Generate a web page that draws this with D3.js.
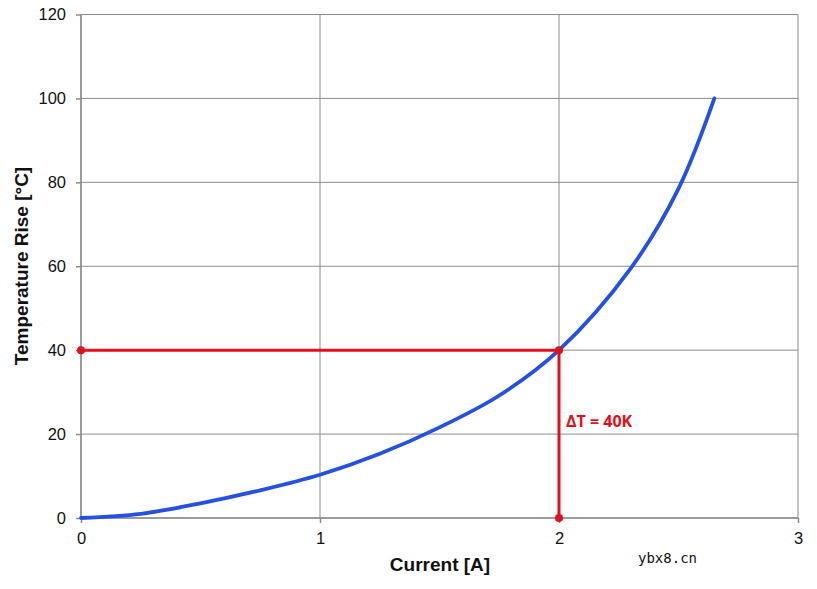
<!DOCTYPE html>
<html><head><meta charset="utf-8">
<script src="https://cdn.jsdelivr.net/npm/d3@7"></script>
<style>body{margin:0;background:#fff}svg{display:block}</style>
</head><body>
<svg id="c" width="817" height="589"></svg>
<script>
const currentA = [0, 0.25, 0.5, 0.75, 1, 1.25, 1.5, 1.75, 2, 2.3, 2.5, 2.65];
const tempRise = [0, 1.0, 3.5, 6.6, 10.3, 15.3, 21.6, 29.2, 40, 59.5, 78.5, 100];
const xTicks = [0, 1, 2, 3];
const yTicks = [0, 20, 40, 60, 80, 100, 120];
const markI = 2, markT = 40;

const svg = d3.select("#c");
const L = 81, R = 798, T = 14.5, B = 518;
const x = d3.scaleLinear().domain([0, 3]).range([L, R]);
const y = d3.scaleLinear().domain([0, 120]).range([B, T]);
const grid = "#8c8c8c";

svg.append("g").selectAll("line").data(yTicks).join("line")
  .attr("x1", L).attr("x2", R).attr("y1", d => y(d)).attr("y2", d => y(d))
  .attr("stroke", grid).attr("stroke-width", 1);
svg.append("g").selectAll("line").data(xTicks).join("line")
  .attr("y1", T).attr("y2", B).attr("x1", d => x(d)).attr("x2", d => x(d))
  .attr("stroke", grid).attr("stroke-width", 1);

const yAxis = d3.axisLeft(y).tickValues(yTicks).tickSize(5).tickPadding(10).tickFormat(d3.format("d"));
const gy = svg.append("g").attr("transform", `translate(${L},0)`).call(yAxis);
const xAxis = d3.axisBottom(x).tickValues(xTicks).tickSize(5).tickPadding(9).tickFormat(d3.format("d"));
const gx = svg.append("g").attr("transform", `translate(0,${B})`).call(xAxis);
[gy, gx].forEach(g => {
  g.selectAll(".domain").attr("stroke", grid).attr("stroke-width", 1.5);
  g.selectAll(".tick line").attr("stroke", grid).attr("stroke-width", 1.5);
  g.selectAll("text").attr("font-family", "Liberation Sans, Arial, sans-serif")
    .attr("font-size", 16.5).attr("fill", "#111");
});
gy.select(".domain").attr("d", `M0,${T}V${B}`);
gx.select(".domain").attr("d", `M${L},0H${R}`);

const line = d3.line().x((d, i) => x(currentA[i])).y(d => y(d)).curve(d3.curveCatmullRom.alpha(0.5));
svg.append("path").attr("d", line(tempRise)).attr("fill", "none")
  .attr("stroke", "#2450e4").attr("stroke-width", 3.8).attr("stroke-linecap", "round");

const red = "#e0111b";
svg.append("path")
  .attr("d", `M${x(0)},${y(markT)}H${x(markI)}V${y(0)}`)
  .attr("fill", "none").attr("stroke", red).attr("stroke-width", 3);
svg.selectAll("circle.m").data([[0, markT], [markI, markT], [markI, 0]]).join("circle")
  .attr("cx", d => x(d[0])).attr("cy", d => y(d[1])).attr("r", 4).attr("fill", red);

svg.append("text").attr("x", x(markI) + 7).attr("y", 427)
  .attr("font-family", "Open Sans, sans-serif").attr("font-weight", "bold")
  .attr("font-size", 16).attr("fill", red).text("ΔT = 40K");

svg.append("text").attr("x", 440).attr("y", 571).attr("text-anchor", "middle")
  .attr("font-family", "Liberation Sans, Arial, sans-serif").attr("font-weight", "bold")
  .attr("font-size", 19).attr("fill", "#111").text("Current [A]");
svg.append("text").attr("transform", "translate(28,266) rotate(-90)").attr("text-anchor", "middle")
  .attr("font-family", "Liberation Sans, Arial, sans-serif").attr("font-weight", "bold")
  .attr("font-size", 19).attr("fill", "#111").text("Temperature Rise [°C]");

svg.append("text").attr("x", 638).attr("y", 563)
  .attr("font-family", "DejaVu Sans Mono, monospace").attr("font-size", 14)
  .attr("fill", "#111").text("ybx8.cn");
</script>
</body></html>
